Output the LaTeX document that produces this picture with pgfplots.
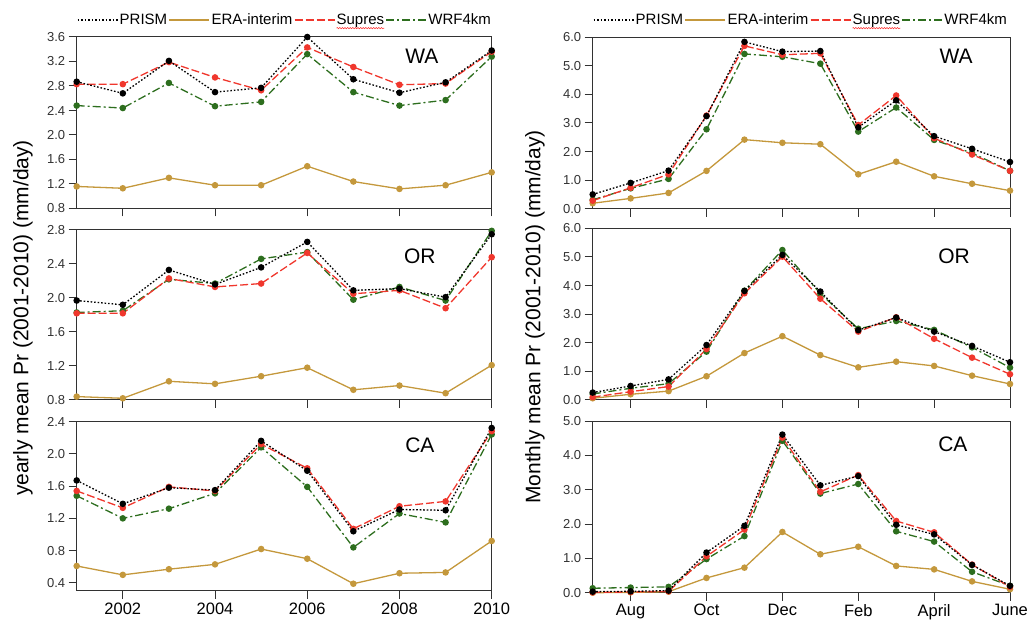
\documentclass[border=0pt]{standalone}
\usepackage{fontspec}
\setmainfont{Liberation Sans}
\usepackage{pgfplots}
\pgfplotsset{compat=1.18}
\usetikzlibrary{decorations.pathmorphing}

\definecolor{era}{RGB}{196,152,60}
\definecolor{supres}{RGB}{240,55,45}
\definecolor{wrf}{RGB}{45,110,30}
\definecolor{axisgray}{RGB}{50,50,50}

% red squiggle under a legend word (as in the reference)
\newcommand\wavy[1]{\tikz[baseline=(w.base)]{\node[inner sep=0pt](w){#1};
  \draw[overlay, red!85, line width=0.5pt, decorate,
    decoration={snake, amplitude=0.7pt, segment length=2.6pt}]
    ([yshift=-1.2pt]w.south west) -- ([yshift=-1.2pt]w.south east);}}

\tikzset{
  sPRISM/.style={black, line width=1.3pt, dash pattern=on 1.6pt off 1.9pt,
    mark=*, mark size=2.6pt, mark options={solid}},
  sERA/.style={era, line width=1.3pt, mark=*, mark size=2.6pt},
  sSUP/.style={supres, line width=1.3pt, dash pattern=on 8pt off 3pt,
    mark=*, mark size=2.6pt, mark options={solid}},
  sWRF/.style={wrf, line width=1.3pt, dash pattern=on 8pt off 3pt on 2pt off 3pt,
    mark=*, mark size=2.6pt, mark options={solid}},
  plab/.style={font=\fontsize{21}{24}\selectfont},
}

\pgfplotsset{
  panel/.style={
    scale only axis, anchor=south west, clip=false,
    axis line style={axisgray, line width=1pt},
    tick align=outside, major tick length=8pt,
    tick style={axisgray, line width=1pt},
    xtick pos=bottom, ytick pos=left,
    yticklabel style={font=\fontsize{13}{15}\selectfont, text=axisgray,
      /pgf/number format/.cd, fixed, fixed zerofill, precision=1, assume math mode=true},
    xticklabel style={font=\fontsize{16.5}{18}\selectfont, text=black},
  },
  yearly/.style={panel, width=415pt, xmin=2001, xmax=2010,
    xtick={2002,2004,2006,2008,2010}},
  monthly/.style={panel, width=417.3pt, xmin=0, xmax=11,
    xtick={1,3,5,7,9,11}},
  toplegend/.style={
    legend columns=4,
    legend cell align=left,
    legend image code/.code={\draw[##1] (0pt,0pt) -- (40pt,0pt);},
    legend style={at={(0,1)}, anchor=west, yshift=17pt, draw=none, fill=none,
      inner sep=0pt, column sep=0pt, font=\fontsize{15}{17}\selectfont,
      nodes={inner sep=1.5pt}},
  },
}

\begin{document}
\begin{tikzpicture}
\useasboundingbox (0,0) rectangle (1028pt,629pt);

% ---------------- yearly, WA
\begin{axis}[yearly, toplegend, at={(76.7pt,420.5pt)}, height=171.5pt,
  ymin=0.8, ymax=3.6, ytick={0.8,1.2,...,3.6}, xticklabels={}]
\addlegendimage{sPRISM}\addlegendentry{PRISM}
\addlegendimage{sERA}\addlegendentry{ERA-interim}
\addlegendimage{sSUP}\addlegendentry{\wavy{Supres}}
\addlegendimage{sWRF}\addlegendentry{WRF4km}
\addplot[sERA, forget plot] coordinates {(2001,1.16)(2002,1.13)(2003,1.30)(2004,1.18)(2005,1.18)(2006,1.49)(2007,1.24)(2008,1.12)(2009,1.18)(2010,1.39)};
\addplot[sWRF, forget plot] coordinates {(2001,2.48)(2002,2.44)(2003,2.85)(2004,2.47)(2005,2.54)(2006,3.32)(2007,2.70)(2008,2.48)(2009,2.57)(2010,3.28)};
\addplot[sSUP, forget plot] coordinates {(2001,2.83)(2002,2.83)(2003,3.19)(2004,2.94)(2005,2.73)(2006,3.43)(2007,3.11)(2008,2.82)(2009,2.84)(2010,3.36)};
\addplot[sPRISM, forget plot] coordinates {(2001,2.87)(2002,2.68)(2003,3.21)(2004,2.70)(2005,2.77)(2006,3.60)(2007,2.91)(2008,2.69)(2009,2.86)(2010,3.38)};
\node[plab] at (rel axis cs:0.832,0.889) {WA};
\end{axis}

% ---------------- yearly, OR
\begin{axis}[yearly, at={(76.7pt,229pt)}, height=170pt,
  ymin=0.8, ymax=2.8, ytick={0.8,1.2,...,2.8}, xticklabels={}]
\addplot[sERA] coordinates {(2001,0.84)(2002,0.82)(2003,1.02)(2004,0.99)(2005,1.08)(2006,1.18)(2007,0.92)(2008,0.97)(2009,0.88)(2010,1.21)};
\addplot[sWRF] coordinates {(2001,1.83)(2002,1.85)(2003,2.22)(2004,2.17)(2005,2.46)(2006,2.54)(2007,1.98)(2008,2.13)(2009,1.97)(2010,2.79)};
\addplot[sSUP] coordinates {(2001,1.82)(2002,1.82)(2003,2.23)(2004,2.13)(2005,2.17)(2006,2.53)(2007,2.05)(2008,2.09)(2009,1.88)(2010,2.48)};
\addplot[sPRISM] coordinates {(2001,1.97)(2002,1.92)(2003,2.33)(2004,2.16)(2005,2.36)(2006,2.66)(2007,2.09)(2008,2.11)(2009,2.01)(2010,2.75)};
\node[plab] at (rel axis cs:0.827,0.847) {OR};
\end{axis}

% ---------------- yearly, CA
\begin{axis}[yearly, at={(76.7pt,38pt)}, height=169.5pt,
  ymin=0.3, ymax=2.4, ytick={0.4,0.8,...,2.4},
  xticklabels={2002,2004,2006,2008,2010}]
\addplot[sERA] coordinates {(2001,0.61)(2002,0.50)(2003,0.57)(2004,0.63)(2005,0.82)(2006,0.70)(2007,0.39)(2008,0.52)(2009,0.53)(2010,0.92)};
\addplot[sWRF] coordinates {(2001,1.48)(2002,1.20)(2003,1.32)(2004,1.51)(2005,2.08)(2006,1.59)(2007,0.84)(2008,1.26)(2009,1.15)(2010,2.24)};
\addplot[sSUP] coordinates {(2001,1.54)(2002,1.33)(2003,1.59)(2004,1.54)(2005,2.12)(2006,1.82)(2007,1.07)(2008,1.35)(2009,1.41)(2010,2.28)};
\addplot[sPRISM] coordinates {(2001,1.67)(2002,1.38)(2003,1.58)(2004,1.55)(2005,2.16)(2006,1.79)(2007,1.04)(2008,1.31)(2009,1.30)(2010,2.32)};
\node[plab] at (rel axis cs:0.827,0.861) {CA};
\end{axis}

% ---------------- monthly, WA
\begin{axis}[monthly, toplegend, at={(592.7pt,420pt)}, height=172pt,
  ymin=0, ymax=6, ytick={0,1,...,6}, xticklabels={}]
\addlegendimage{sPRISM}\addlegendentry{PRISM}
\addlegendimage{sERA}\addlegendentry{ERA-interim}
\addlegendimage{sSUP}\addlegendentry{\wavy{Supres}}
\addlegendimage{sWRF}\addlegendentry{WRF4km}
\addplot[sERA, forget plot] coordinates {(0,0.20)(1,0.37)(2,0.56)(3,1.33)(4,2.42)(5,2.31)(6,2.26)(7,1.21)(8,1.65)(9,1.14)(10,0.88)(11,0.64)};
\addplot[sWRF, forget plot] coordinates {(0,0.32)(1,0.72)(2,1.05)(3,2.78)(4,5.41)(5,5.31)(6,5.07)(7,2.70)(8,3.54)(9,2.41)(10,1.95)(11,1.33)};
\addplot[sSUP, forget plot] coordinates {(0,0.29)(1,0.74)(2,1.21)(3,3.26)(4,5.69)(5,5.38)(6,5.43)(7,2.93)(8,3.96)(9,2.47)(10,1.90)(11,1.33)};
\addplot[sPRISM, forget plot] coordinates {(0,0.51)(1,0.91)(2,1.34)(3,3.24)(4,5.83)(5,5.49)(6,5.51)(7,2.85)(8,3.79)(9,2.54)(10,2.10)(11,1.64)};
\node[plab] at (rel axis cs:0.871,0.89) {WA};
\end{axis}

% ---------------- monthly, OR
\begin{axis}[monthly, at={(592.7pt,229pt)}, height=171.7pt,
  ymin=0, ymax=6, ytick={0,1,...,6}, xticklabels={}]
\addplot[sERA] coordinates {(0,0.06)(1,0.20)(2,0.31)(3,0.83)(4,1.64)(5,2.23)(6,1.57)(7,1.14)(8,1.34)(9,1.19)(10,0.85)(11,0.56)};
\addplot[sWRF] coordinates {(0,0.21)(1,0.41)(2,0.57)(3,1.69)(4,3.82)(5,5.24)(6,3.72)(7,2.49)(8,2.76)(9,2.45)(10,1.84)(11,1.13)};
\addplot[sSUP] coordinates {(0,0.10)(1,0.29)(2,0.47)(3,1.78)(4,3.73)(5,5.01)(6,3.54)(7,2.39)(8,2.89)(9,2.14)(10,1.48)(11,0.90)};
\addplot[sPRISM] coordinates {(0,0.26)(1,0.49)(2,0.72)(3,1.92)(4,3.81)(5,5.07)(6,3.79)(7,2.44)(8,2.88)(9,2.39)(10,1.89)(11,1.32)};
\node[plab] at (rel axis cs:0.866,0.839) {OR};
\end{axis}

% ---------------- monthly, CA
\begin{axis}[monthly, at={(592.7pt,36.3pt)}, height=171.5pt,
  ymin=0, ymax=5, ytick={0,1,...,5},
  xticklabels={Aug,Oct,Dec,Feb,April,June}]
\addplot[sERA] coordinates {(0,0.00)(1,0.01)(2,0.03)(3,0.43)(4,0.73)(5,1.77)(6,1.12)(7,1.34)(8,0.78)(9,0.68)(10,0.33)(11,0.10)};
\addplot[sWRF] coordinates {(0,0.13)(1,0.15)(2,0.17)(3,0.98)(4,1.65)(5,4.43)(6,2.89)(7,3.17)(8,1.79)(9,1.49)(10,0.61)(11,0.20)};
\addplot[sSUP] coordinates {(0,0.01)(1,0.02)(2,0.04)(3,1.06)(4,1.84)(5,4.52)(6,2.94)(7,3.43)(8,2.09)(9,1.76)(10,0.82)(11,0.17)};
\addplot[sPRISM] coordinates {(0,0.03)(1,0.04)(2,0.06)(3,1.17)(4,1.95)(5,4.61)(6,3.13)(7,3.40)(8,1.98)(9,1.70)(10,0.81)(11,0.20)};
\node[plab] at (rel axis cs:0.863,0.867) {CA};
\end{axis}

% axis titles
\node[rotate=90, font=\fontsize{21}{24}\selectfont] at (23pt,311pt) {yearly mean Pr (2001-2010) (mm/day)};
\node[rotate=90, font=\fontsize{21}{24}\selectfont] at (535pt,312pt) {Monthly mean Pr (2001-2010) (mm/day)};
\end{tikzpicture}
\end{document}
